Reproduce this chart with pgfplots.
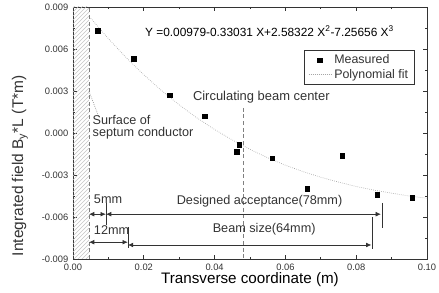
\documentclass[border=0pt]{standalone}
\usepackage{fontspec}
\setmainfont{Liberation Sans}
\usepackage{pgfplots}
\pgfplotsset{compat=1.18}
\usetikzlibrary{patterns,arrows.meta}
\definecolor{txt}{gray}{0.2}
\definecolor{fitc}{gray}{0.65}
\begin{document}
\begin{tikzpicture}
\begin{axis}[
  name=ax,
  scale only axis,
  width=265.5pt, height=189pt,
  xmin=0, xmax=0.1, ymin=-0.009, ymax=0.009,
  xtick={0,0.02,0.04,0.06,0.08,0.1},
  xticklabels={0.00,0.02,0.04,0.06,0.08,0.10},
  ytick={-0.009,-0.006,-0.003,0,0.003,0.006,0.009},
  yticklabels={-0.009,-0.006,-0.003,0.000,0.003,0.006,0.009},
  scaled ticks=false,
  minor x tick num=1, minor y tick num=1,
  tick align=inside,
  major tick length=3pt, minor tick length=1.8pt,
  tick style={color=txt, line width=0.5pt},
  axis line style={color=txt, line width=0.7pt},
  ticklabel style={font=\fontsize{7}{8}\selectfont, text=txt},
  xlabel={Transverse coordinate (m)},
  ylabel={Integrated field B\textsubscript{y}*L (T*m)},
  xlabel style={font=\fontsize{11.4}{13}\selectfont, text=black, yshift=5pt},
  ylabel style={font=\fontsize{11.6}{13}\selectfont, text=txt, at={(axis description cs:-0.15,0.37)}, anchor=center},
  legend style={at={(0.966,0.83)}, anchor=north east, draw=txt, font=\fontsize{9.3}{10.5}\selectfont, text=txt, row sep=-1.5pt, inner xsep=3pt, inner ysep=1.5pt},
  legend cell align=left,
  clip=false,
]
% septum hatched region
\fill[pattern=north east lines, pattern color=gray!45] (axis cs:0,-0.009) rectangle (axis cs:0.0045,0.009);
\draw[gray, densely dashed, line width=0.5pt] (axis cs:0.0045,-0.009) -- (axis cs:0.0045,0.009);

\addplot[only marks, mark=square*, mark size=1.7pt, black] coordinates {
(0.0070,0.00729) (0.0172,0.00529) (0.0273,0.00271) (0.0372,0.00121)
(0.0462,-0.00136) (0.0470,-0.00086) (0.0563,-0.00179) (0.0662,-0.0040)
(0.0761,-0.00164) (0.0859,-0.00443) (0.0958,-0.00464)
};
\addlegendentry{Measured}
\addplot[fitc, densely dotted, line width=0.5pt] coordinates {
(0.005,0.00820) (0.010,0.00674) (0.015,0.00539) (0.020,0.00416)
(0.025,0.00303) (0.030,0.00201) (0.035,0.00108) (0.040,0.00025)
(0.045,-0.00050) (0.050,-0.00117) (0.055,-0.00177) (0.060,-0.00230)
(0.065,-0.00276) (0.070,-0.00316) (0.075,-0.00351) (0.080,-0.00382)
(0.085,-0.00408) (0.090,-0.00430) (0.095,-0.00450) (0.100,-0.00467)
};
\addlegendentry{Polynomial fit}

% circulating beam center line
\draw[gray, densely dashed, line width=0.5pt] (axis cs:0.0482,0.0018) -- (axis cs:0.0482,-0.009);
\node[font=\fontsize{9.7}{11}\selectfont, text=txt] at (axis cs:0.0532,0.00255) {Circulating beam center};

% equation
\node[font=\fontsize{8.9}{10}\selectfont, text=black, anchor=west, inner sep=0pt] at (axis cs:0.0203,0.0073) {Y =0.00979-0.33031 X+2.58322 X\textsuperscript{2}-7.25656 X\textsuperscript{3}};

% surface of septum
\draw[gray, densely dotted, line width=0.5pt] (axis cs:0.0045,0.0030) -- (axis cs:0.0072,0.0012);
\node[font=\fontsize{9.5}{10}\selectfont, text=txt, anchor=north west, align=left, inner sep=0pt] at (axis cs:0.0055,0.00125) {Surface of\\[-1pt]septum conductor};

% dimension arrows row 1
\draw[txt, line width=0.5pt, {Latex[length=4pt,width=3.5pt]}-{Latex[length=4pt,width=3.5pt]}] (axis cs:0.0045,-0.0058) -- (axis cs:0.0093,-0.0058);
\draw[txt, line width=0.5pt] (axis cs:0.0093,-0.0050) -- (axis cs:0.0093,-0.0066);
\draw[txt, line width=0.5pt, {Latex[length=4pt,width=3.5pt]}-{Latex[length=4pt,width=3.5pt]}] (axis cs:0.0093,-0.0058) -- (axis cs:0.0870,-0.0058);
\draw[txt, line width=0.5pt] (axis cs:0.0873,-0.0050) -- (axis cs:0.0873,-0.0068);
\node[font=\fontsize{9.5}{10}\selectfont, text=txt, anchor=west] at (axis cs:0.0046,-0.0047) {5mm};
\node[font=\fontsize{9.5}{10}\selectfont, text=txt] at (axis cs:0.0527,-0.0049) {Designed acceptance(78mm)};

% dimension arrows row 2
\draw[txt, line width=0.5pt, {Latex[length=4pt,width=3.5pt]}-{Latex[length=4pt,width=3.5pt]}] (axis cs:0.0045,-0.0078) -- (axis cs:0.0155,-0.0078);
\draw[txt, line width=0.5pt] (axis cs:0.0155,-0.0067) -- (axis cs:0.0155,-0.0082);
\draw[txt, line width=0.5pt, {Latex[length=4pt,width=3.5pt]}-{Latex[length=4pt,width=3.5pt]}] (axis cs:0.0155,-0.0080) -- (axis cs:0.0843,-0.0080);
\draw[txt, line width=0.5pt] (axis cs:0.0846,-0.0060) -- (axis cs:0.0846,-0.0083);
\node[font=\fontsize{9.5}{10}\selectfont, text=txt, anchor=west] at (axis cs:0.0046,-0.0069) {12mm};
\node[font=\fontsize{9.5}{10}\selectfont, text=txt] at (axis cs:0.0540,-0.0069) {Beam size(64mm)};
\end{axis}
\pgfresetboundingbox
\path[use as bounding box] ([xshift=-54.75pt,yshift=-25.5pt]ax.south west) rectangle ([xshift=9pt,yshift=5.25pt]ax.north east);
\end{tikzpicture}
\end{document}
